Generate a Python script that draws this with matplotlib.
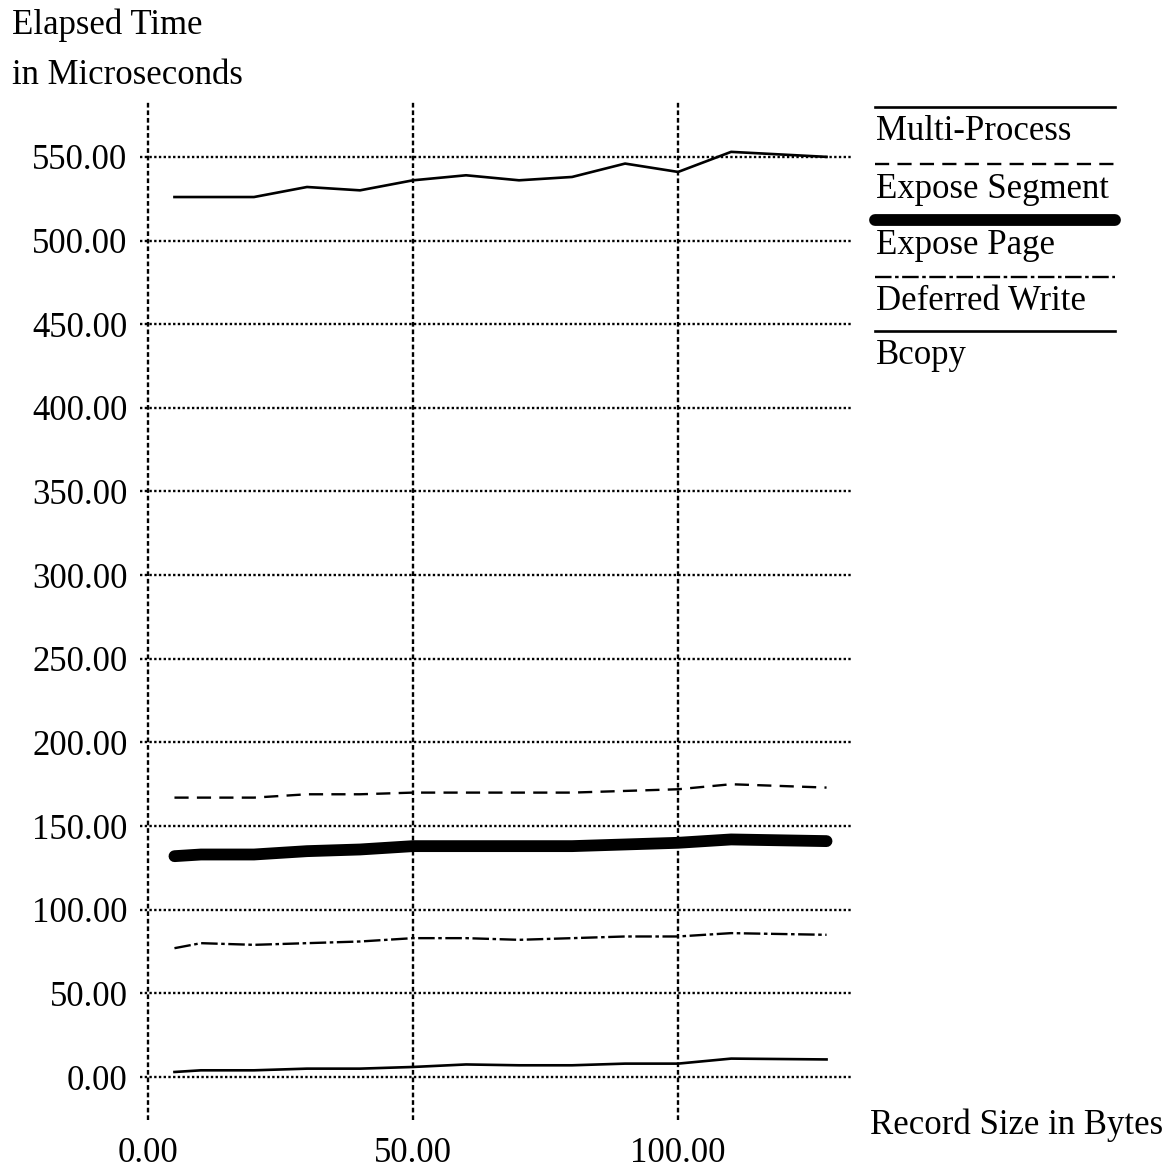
import matplotlib
matplotlib.use('Agg')
import matplotlib.pyplot as plt
from matplotlib.lines import Line2D

# record size in bytes
record_size = [5, 10, 20, 30, 40, 50, 60, 70, 80, 90, 100, 110, 128]

# elapsed time in microseconds
multi_process = [526, 526, 526, 532, 530, 536, 539, 536, 538, 546, 541, 553, 550]
expose_segment = [167, 167, 167, 169, 169, 170, 170, 170, 170, 171, 172, 175, 173]
expose_page = [132, 133, 133, 135, 136, 138, 138, 138, 138, 139, 140, 142, 141]
deferred_write = [77, 80, 79, 80, 81, 83, 83, 82, 83, 84, 84, 86, 85]
bcopy = [3, 4, 4, 5, 5, 6, 7.5, 7, 7, 8, 8, 11, 10.5]

series_names = ['Multi-Process', 'Expose Segment', 'Expose Page', 'Deferred Write', 'Bcopy']
series_values = [multi_process, expose_segment, expose_page, deferred_write, bcopy]

y_ticks = [0, 50, 100, 150, 200, 250, 300, 350, 400, 450, 500, 550]
x_ticks = [0, 50, 100]

STYLES = [
    dict(linestyle='-', linewidth=1.9),
    dict(linestyle=(0, (6, 3.5)), linewidth=1.7),
    dict(linestyle='-', linewidth=8.5, solid_capstyle='round'),
    dict(linestyle=(0, (7, 1.5, 1.5, 1.5)), linewidth=1.7),
    dict(linestyle='-', linewidth=1.9),
]

FONT = 'Liberation Serif'
FS = 25
W, H = 1171, 1175

plt.rcParams['font.family'] = FONT

fig = plt.figure(figsize=(W / 100, H / 100), dpi=100)
ax = fig.add_axes([140 / W, 1 - 1120 / H, (852 - 140) / W, (1120 - 100) / H])

for vals, st in zip(series_values, STYLES):
    ax.plot(record_size, vals, color='black', zorder=3, **st)

ax.set_xlim(-1.5, 132.8)
ax.set_ylim(-25.7, 584)
ax.set_xticks(x_ticks)
ax.set_yticks(y_ticks)
ax.set_xticklabels(['%.2f' % v for v in x_ticks], fontsize=FS)
ax.set_yticklabels(['%.2f' % v for v in y_ticks], fontsize=FS)
ax.tick_params(axis='both', length=0)
ax.tick_params(axis='y', pad=9)
ax.tick_params(axis='x', pad=12)
for s in ax.spines.values():
    s.set_visible(False)

# gridlines: dense dots horizontal, short dashes vertical
for y in y_ticks:
    ax.axhline(y, color='black', linewidth=1.7, linestyle=(0, (1, 1)), zorder=1)
for x in x_ticks:
    ax.axvline(x, color='black', linewidth=1.7, linestyle=(0, (2, 1.2)), zorder=1)

fig.text(12 / W, 1 - 25 / H, 'Elapsed Time', fontsize=FS, va='center', ha='left')
fig.text(12 / W, 1 - 75 / H, 'in Microseconds', fontsize=FS, va='center', ha='left')
fig.text(870 / W, 1 - 1125 / H, 'Record Size in Bytes', fontsize=FS, va='center', ha='left')

# legend: line sample above each name
line_y = [107, 164, 220, 277, 331]
for name, st, ly in zip(series_names, STYLES, line_y):
    fig.add_artist(Line2D([875 / W, 1115 / W], [1 - ly / H, 1 - ly / H],
                          color='black', transform=fig.transFigure, **st))
    fig.text(876 / W, 1 - (ly + 25) / H, name, fontsize=FS, va='center', ha='left')

fig.savefig('out.png', dpi=100)
